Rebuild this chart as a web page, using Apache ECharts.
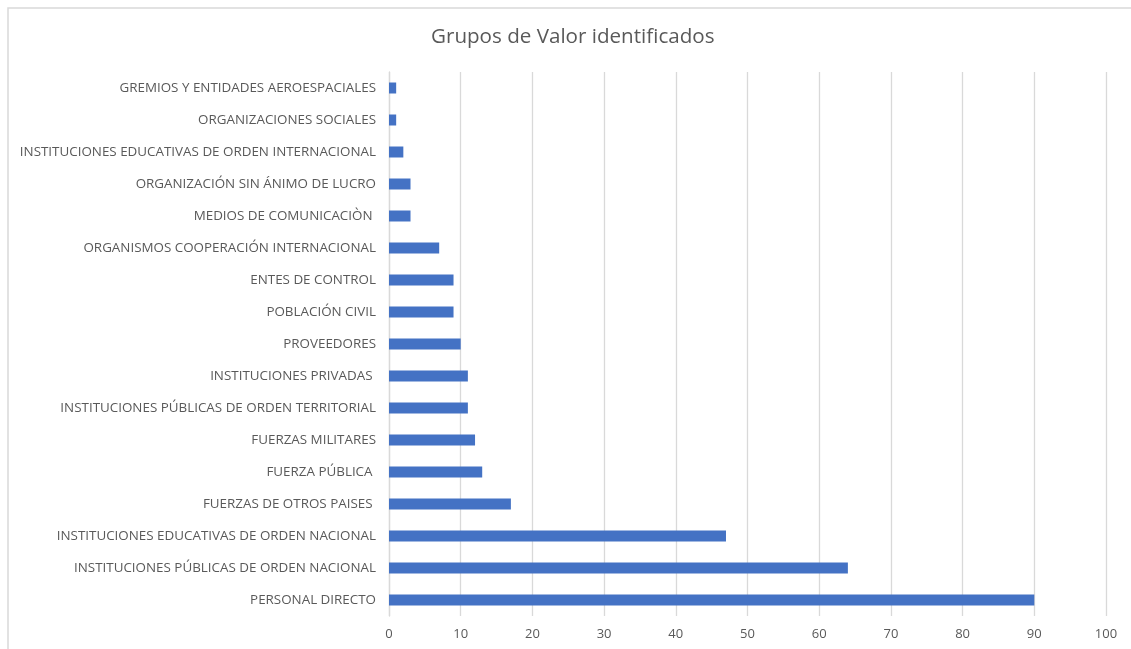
<!DOCTYPE html>
<html>
<head>
    <meta charset="UTF-8">
    <title>Grupos de Valor identificados</title>
    <script src="https://cdn.jsdelivr.net/npm/echarts@6/dist/echarts.min.js"></script>
    <style>
        html, body { margin: 0; padding: 0; background: #fff; }
        #main { width: 1131px; height: 649px; }
    </style>
</head>
<body>
<div id="main"></div>
<script type="text/javascript">
    // categorias (de abajo hacia arriba, como en el eje)
    var categorias = [
        'PERSONAL DIRECTO',
        'INSTITUCIONES PÚBLICAS DE ORDEN NACIONAL',
        'INSTITUCIONES EDUCATIVAS DE ORDEN NACIONAL',
        'FUERZAS DE OTROS PAISES ',
        'FUERZA PÚBLICA ',
        'FUERZAS MILITARES',
        'INSTITUCIONES PÚBLICAS DE ORDEN TERRITORIAL',
        'INSTITUCIONES PRIVADAS ',
        'PROVEEDORES',
        'POBLACIÓN CIVIL',
        'ENTES DE CONTROL',
        'ORGANISMOS COOPERACIÓN INTERNACIONAL',
        'MEDIOS DE COMUNICACIÒN ',
        'ORGANIZACIÓN SIN ÁNIMO DE LUCRO',
        'INSTITUCIONES EDUCATIVAS DE ORDEN INTERNACIONAL',
        'ORGANIZACIONES SOCIALES',
        'GREMIOS Y ENTIDADES AEROESPACIALES'
    ];
    var valores = [90, 64, 47, 17, 13, 12, 11, 11, 10, 9, 9, 7, 3, 3, 2, 1, 1];
    var ejeMin = 0, ejeMax = 100, ejePaso = 10;

    var myChart = echarts.init(document.getElementById('main'));

    var option = {
        backgroundColor: '#fff',
        textStyle: { fontFamily: 'Open Sans' },
        title: {
            text: 'Grupos de Valor identificados',
            left: 431,
            top: 27,
            padding: 0,
            textStyle: { fontSize: 20.6, fontWeight: 'normal', color: '#595959', fontFamily: 'Open Sans' }
        },
        graphic: [{
            type: 'rect',
            shape: { x: 8, y: 8, width: 1140, height: 700 },
            style: { fill: 'none', stroke: '#d9d9d9', lineWidth: 1.5 },
            silent: true
        }],
        grid: { left: 389, right: 25, top: 72, bottom: 33 },
        xAxis: {
            type: 'value',
            min: ejeMin,
            max: ejeMax,
            interval: ejePaso,
            axisLine: { show: false },
            axisTick: { show: false },
            axisLabel: { color: '#595959', fontSize: 13, margin: 12 },
            splitLine: { lineStyle: { color: '#d9d9d9', width: 1.3 } }
        },
        yAxis: {
            type: 'category',
            data: categorias,
            axisLine: { show: true, lineStyle: { color: '#d9d9d9', width: 1.3 } },
            axisTick: { show: false },
            axisLabel: { color: '#595959', fontSize: 13.4, margin: 13 }
        },
        series: [{
            type: 'bar',
            data: valores,
            barWidth: 11,
            itemStyle: { color: '#4472C4' }
        }]
    };

    myChart.setOption(option);
</script>
</body>
</html>
